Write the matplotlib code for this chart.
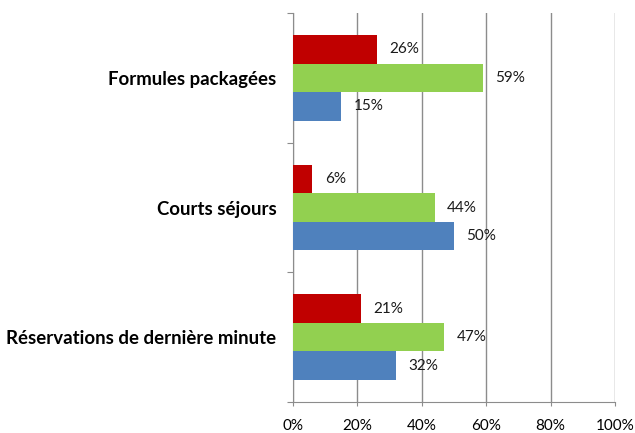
import numpy as np
import matplotlib.pyplot as plt

categories = ["Réservations de dernière minute", "Courts séjours", "Formules packagées"]
red_vals = [21, 6, 26]
green_vals = [47, 44, 59]
blue_vals = [32, 50, 15]
ticks = [0, 20, 40, 60, 80, 100]

plt.rcParams['font.family'] = ['Lato', 'DejaVu Sans']

fig = plt.figure(figsize=(6.35, 4.33), dpi=100)
ax = fig.add_axes([293/635, 1 - 402/433, (615-293)/635, (402-13)/433])

y = np.arange(len(categories))
h = 0.22
series = [(red_vals, "#C00000", h), (green_vals, "#92D050", 0), (blue_vals, "#4F81BD", -h)]
for vals, col, off in series:
    bars = ax.barh(y + off, vals, height=h, color=col, zorder=3)
    for b, v in zip(bars, vals):
        ax.annotate(f"{v}%", (b.get_width(), b.get_y() + b.get_height() / 2),
                    xytext=(9, 0), textcoords="offset points", va="center",
                    ha="left", fontsize=11, color="#1a1a1a", zorder=4)

ax.set_xlim(0, 100)
ax.set_ylim(-0.5, 2.5)
ax.set_xticks(ticks)
ax.set_xticklabels([f"{t}%" for t in ticks], fontsize=11)
ax.xaxis.grid(True, color="#8c8c8c", linewidth=1, zorder=0)
ax.set_yticks([-0.5, 0.5, 1.5, 2.5])
ax.set_yticklabels([])
ax.set_yticks(y, minor=True)
ax.set_yticklabels(categories, minor=True, fontsize=13.4, fontweight="bold")
ax.tick_params(axis="y", which="minor", length=0, pad=12)
ax.tick_params(axis="y", which="major", length=4, color="#8c8c8c", direction="out")
ax.tick_params(axis="x", length=3, color="#8c8c8c", pad=9.5)

for s in ["top", "right"]:
    ax.spines[s].set_visible(False)
for s in ["left", "bottom"]:
    ax.spines[s].set_color("#8c8c8c")

fig.savefig("out.png", dpi=100)
